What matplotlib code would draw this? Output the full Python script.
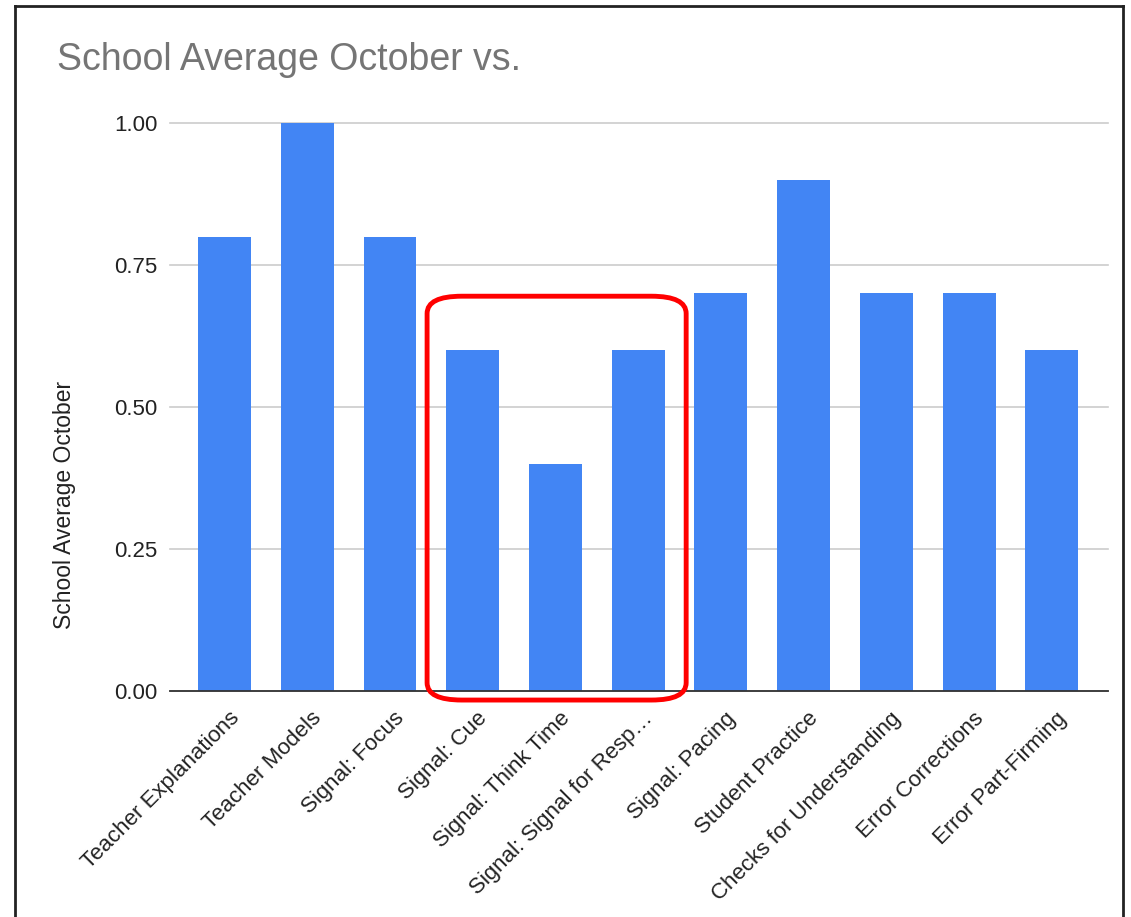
import matplotlib
matplotlib.use("Agg")
import matplotlib.pyplot as plt
from matplotlib.patches import FancyBboxPatch
from matplotlib.lines import Line2D
import matplotlib.transforms as mtransforms

categories = [
    "Teacher Explanations", "Teacher Models", "Signal: Focus", "Signal: Cue",
    "Signal: Think Time", "Signal: Signal for Resp…", "Signal: Pacing",
    "Student Practice", "Checks for Understanding", "Error Corrections",
    "Error Part-Firming",
]
values = [0.8, 1.0, 0.8, 0.6, 0.4, 0.6, 0.7, 0.9, 0.7, 0.7, 0.6]
yticks = [0.0, 0.25, 0.5, 0.75, 1.0]
highlight = (3, 5)  # first and last index of the outlined group

plt.rcParams["font.family"] = ["Liberation Sans", "DejaVu Sans"]

fig = plt.figure(figsize=(11.31, 9.17), dpi=100)
ax = fig.add_axes([0.1503, 0.2465, 0.8294, 0.6194])

x = list(range(len(categories)))
ax.bar(x, values, width=0.64, color="#4285F4", zorder=3)

ax.set_xlim(-0.66, len(categories) - 1 + 0.68)
ax.set_ylim(0, 1.0)
ax.set_yticks(yticks)
ax.set_yticklabels([f"{v:.2f}" for v in yticks], fontsize=16, color="#222222")
ax.yaxis.grid(True, color="#cccccc", linewidth=1.2, zorder=0)
for gl in ax.get_ygridlines():
    gl.set_clip_on(False)
ax.tick_params(axis="y", length=0, pad=9)
ax.tick_params(axis="x", length=0)

ax.set_xticks(x)
ax.set_xticklabels(categories, rotation=45, ha="right", va="top",
                   rotation_mode="anchor", fontsize=16, color="#222222")
offset = mtransforms.ScaledTranslation(0.04, -0.12, fig.dpi_scale_trans)
for lbl in ax.get_xticklabels():
    lbl.set_transform(lbl.get_transform() + offset)

for side in ("top", "right", "left"):
    ax.spines[side].set_visible(False)
ax.spines["bottom"].set_color("#333333")
ax.spines["bottom"].set_linewidth(1.3)
ax.spines["bottom"].set_zorder(4)

fig.text(65 / 1131, 1 - 505 / 917, "School Average October", rotation=90,
         ha="center", va="center", fontsize=16.5, color="#222222")
fig.text(57 / 1131, 1 - 60 / 917, "School Average October vs.",
         ha="left", va="center", fontsize=27, color="#757575")

# outline around the signal group
lo, hi = highlight
box = FancyBboxPatch((lo - 0.552, -0.016), (hi - lo) + 0.552 + 0.58, 0.711,
                     boxstyle="round,pad=0,rounding_size=0.42",
                     mutation_aspect=0.0726,
                     fill=False, edgecolor="#ff0000", linewidth=3.5,
                     clip_on=False, zorder=6)
ax.add_patch(box)

# frame around the figure
fig.add_artist(Line2D([14.5 / 1131, 14.5 / 1131], [0, 1 - 5.5 / 917],
                      transform=fig.transFigure, color="#222222", linewidth=2))
fig.add_artist(Line2D([14.5 / 1131, 1123 / 1131], [1 - 5.5 / 917, 1 - 5.5 / 917],
                      transform=fig.transFigure, color="#222222", linewidth=2))
fig.add_artist(Line2D([1123 / 1131, 1123 / 1131], [0, 1 - 5.5 / 917],
                      transform=fig.transFigure, color="#222222", linewidth=2))

fig.savefig("out.png", dpi=100, facecolor="white")
